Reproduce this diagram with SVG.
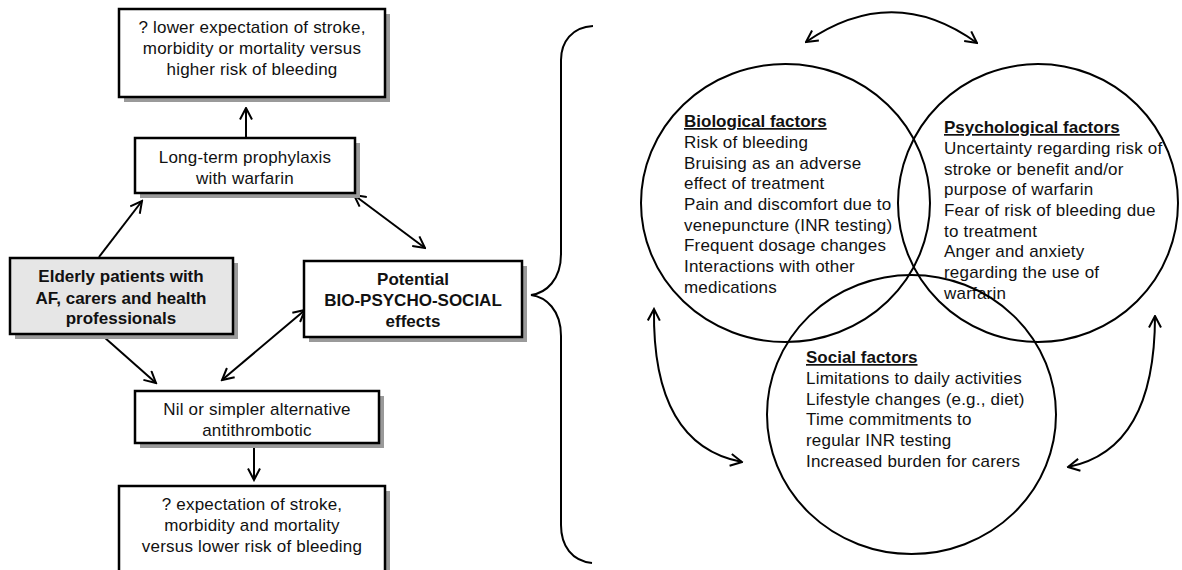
<svg xmlns="http://www.w3.org/2000/svg" width="1182" height="570" viewBox="0 0 1182 570">
<style>
.box{fill:#fff;stroke:#000;stroke-width:2.5}
.grey{fill:#e6e6e6;stroke:#000;stroke-width:2.5}
.sh{fill:#9a9a9a}
.t{font-family:"Liberation Sans",Arial,sans-serif;font-size:17px;fill:#111;letter-spacing:0.2px}
.c{text-anchor:middle}
.b{font-weight:bold;letter-spacing:0}
.h{font-weight:bold;text-decoration:underline;letter-spacing:0}
.ln{fill:none;stroke:#000;stroke-width:2}
.el{fill:none;stroke:#000;stroke-width:2}
</style>
<defs>
<marker id="arr" viewBox="0 0 14 14" refX="12.5" refY="7" markerWidth="14" markerHeight="14" markerUnits="userSpaceOnUse" orient="auto-start-reverse">
<path d="M1,1 L12.5,7 L1,13" fill="none" stroke="#000" stroke-width="2"/>
</marker>
</defs>

<g id="connectors">
<line class="ln" x1="246" y1="138" x2="246" y2="108" marker-end="url(#arr)"/>
<line class="ln" x1="99" y1="257" x2="142" y2="201" marker-end="url(#arr)"/>
<line class="ln" x1="354" y1="195" x2="425" y2="248" marker-start="url(#arr)" marker-end="url(#arr)"/>
<line class="ln" x1="104" y1="337" x2="156" y2="383" marker-end="url(#arr)"/>
<line class="ln" x1="305" y1="310" x2="222" y2="380" marker-start="url(#arr)" marker-end="url(#arr)"/>
<line class="ln" x1="254" y1="443" x2="254" y2="480" marker-end="url(#arr)"/>
<path class="ln" d="M593,26 C572,27 561,42 561,60 L561,254 C561,280 546,293 531,295 C546,297 561,310 561,336 L561,525 C561,546 572,561 592,563" stroke-width="2.5"/>
<path class="ln" d="M806,42 Q893,-18 977,43" marker-start="url(#arr)" marker-end="url(#arr)"/>
<path class="ln" d="M654,309 Q652,445 742,462" marker-start="url(#arr)" marker-end="url(#arr)"/>
<path class="ln" d="M1155,316 Q1155,450 1068,467" marker-start="url(#arr)" marker-end="url(#arr)"/>
</g>

<g id="n-top">
<rect class="sh" x="124" y="14" width="266" height="88"/>
<rect class="box" x="119" y="9" width="266" height="88"/>
<text class="t c" x="252" y="33">? lower expectation of stroke,</text>
<text class="t c" x="252" y="54">morbidity or mortality versus</text>
<text class="t c" x="252" y="75">higher risk of bleeding</text>
</g>

<g id="n-warfarin">
<rect class="sh" x="140" y="143" width="220" height="55"/>
<rect class="box" x="135" y="138" width="220" height="55"/>
<text class="t c" x="245" y="163">Long-term prophylaxis</text>
<text class="t c" x="245" y="184">with warfarin</text>
</g>

<g id="n-elderly">
<rect class="sh" x="15" y="263" width="223" height="76"/>
<rect class="grey" x="10" y="258" width="223" height="76"/>
<text class="t c b" x="121" y="282">Elderly patients with</text>
<text class="t c b" x="121" y="304">AF, carers and health</text>
<text class="t c b" x="121" y="324">professionals</text>
</g>

<g id="n-potential">
<rect class="sh" x="309" y="266" width="218" height="76"/>
<rect class="box" x="304" y="261" width="218" height="76"/>
<text class="t c b" x="413" y="285">Potential</text>
<text class="t c b" x="413" y="306">BIO-PSYCHO-SOCIAL</text>
<text class="t c b" x="413" y="327">effects</text>
</g>

<g id="n-nil">
<rect class="sh" x="140" y="396" width="244" height="52"/>
<rect class="box" x="135" y="391" width="244" height="52"/>
<text class="t c" x="257" y="415">Nil or simpler alternative</text>
<text class="t c" x="257" y="436">antithrombotic</text>
</g>

<g id="n-bottom">
<rect class="sh" x="124" y="491" width="266" height="90"/>
<rect class="box" x="119" y="486" width="266" height="95"/>
<text class="t c" x="252" y="510">? expectation of stroke,</text>
<text class="t c" x="252" y="531">morbidity and  mortality</text>
<text class="t c" x="252" y="552">versus lower risk of bleeding</text>
</g>

<g id="n-biological">
<ellipse class="el" cx="785.5" cy="203" rx="144.5" ry="139"/>
<text class="t h" x="684" y="127">Biological factors</text>
<text class="t" x="684" y="148">Risk of bleeding</text>
<text class="t" x="684" y="168.5">Bruising as an adverse</text>
<text class="t" x="684" y="189">effect of treatment</text>
<text class="t" x="684" y="210">Pain and discomfort due to</text>
<text class="t" x="684" y="230.5">venepuncture (INR testing)</text>
<text class="t" x="684" y="251">Frequent dosage changes</text>
<text class="t" x="684" y="272">Interactions with other</text>
<text class="t" x="684" y="292.5">medications</text>
</g>

<g id="n-psychological">
<ellipse class="el" cx="1038" cy="203" rx="140" ry="139"/>
<text class="t h" x="944" y="133">Psychological factors</text>
<text class="t" x="944" y="154">Uncertainty regarding risk of</text>
<text class="t" x="944" y="174.5">stroke or benefit and/or</text>
<text class="t" x="944" y="195">purpose of warfarin</text>
<text class="t" x="944" y="216">Fear of risk of bleeding due</text>
<text class="t" x="944" y="236.5">to treatment</text>
<text class="t" x="944" y="257">Anger and anxiety</text>
<text class="t" x="944" y="278">regarding the use of</text>
<text class="t" x="944" y="298.5">warfarin</text>
</g>

<g id="n-social">
<ellipse class="el" cx="911.5" cy="414.5" rx="144.5" ry="139.5"/>
<text class="t h" x="806" y="363">Social factors</text>
<text class="t" x="806" y="384">Limitations to daily activities</text>
<text class="t" x="806" y="404.5">Lifestyle changes (e.g., diet)</text>
<text class="t" x="806" y="425">Time commitments to</text>
<text class="t" x="806" y="446">regular INR testing</text>
<text class="t" x="806" y="466.5">Increased burden for carers</text>
</g>
</svg>
